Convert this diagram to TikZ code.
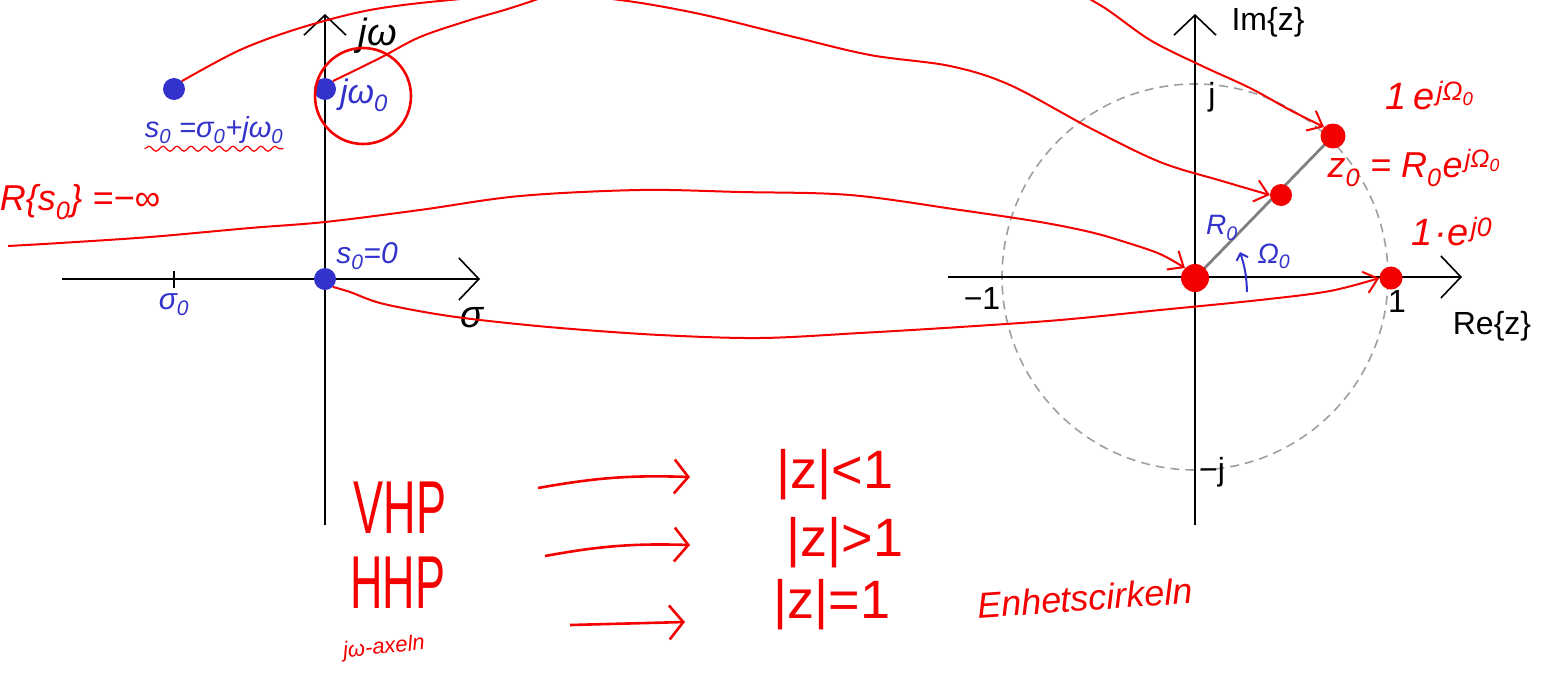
\documentclass[tikz,border=0pt]{standalone}
\usepackage{fontspec}
\setmainfont{Liberation Sans}
\usetikzlibrary{arrows.meta,decorations.pathmorphing}
\definecolor{penred}{RGB}{245,0,0}
\definecolor{penblue}{RGB}{51,51,204}
\newcommand\fs[1]{\fontsize{#1}{#1}\selectfont}
\begin{document}
\begin{tikzpicture}[x=1pt,y=-1pt,
  axis/.style={line width=1.6pt,-{Straight Barb[length=20pt,width=42pt,line width=1.6pt]}},
  pen/.style={penred,line width=2pt},
  map/.style={pen,-{Straight Barb[length=13pt,width=22pt]}},
  bigmap/.style={penred,line width=2.6pt,-{Straight Barb[length=14pt,width=34pt]}},
  bdot/.style={circle,fill=penblue,minimum size=22pt,inner sep=0},
  rdot/.style={circle,fill=penred,minimum size=25pt,inner sep=0},
  hw/.style={font=\itshape,inner sep=0pt},
  prt/.style={font=\fs{32},inner sep=0pt}]
\useasboundingbox (0,0) rectangle (1542,675);
\clip (0,0) rectangle (1542,675);
% s-plane
\draw[axis] (62,279) -- (480,279);
\draw[axis] (325,525) -- (325,14);
\draw[line width=2.2pt] (174,271) -- (174,288);
\node[hw,text=black] (jwlbl) at (378,36) {\fs{38}jω};
\node[hw,text=black] (sigmalbl) at (472,318) {\fs{38}σ};
\node[hw,text=penblue] (sig0lbl) at (174,305) {\fs{30}σ\textsubscript{0}};
\node[bdot] (s0) at (174,89) {};
\node[bdot] (jw0) at (325,89) {};
\node[bdot] (orig) at (325,279) {};
\node[hw,text=penblue] (s0lbl) at (214,130) {\fs{29}s\textsubscript{0} =σ\textsubscript{0}+jω\textsubscript{0}};
\draw[pen,line width=1.2pt,decorate,decoration={snake,amplitude=2.5pt,segment length=14pt}] ([yshift=-5pt]s0lbl.south west) -- ([yshift=-5pt]s0lbl.south east);
\node[hw,text=penblue] (jw0lbl) at (364,95) {\fs{34}jω\textsubscript{0}};
\node[draw=penred,line width=2.6pt,circle,minimum size=96pt] (ring) at (363,96) {};
\node[hw,text=penblue] (origlbl) at (367,256) {\fs{30}s\textsubscript{0}=0};
\node[hw,text=penred] (minflbl) at (80,202) {\fs{36}R\{s\textsubscript{0}\} =−∞};
% z-plane
\draw[gray!75,line width=1.6pt,dash pattern=on 9pt off 6pt] (1195,277) circle[radius=193pt];
\draw[axis] (948,277) -- (1462,277);
\draw[axis] (1195,525) -- (1195,14);
\node[prt] (imlbl) at (1268,22) {Im\{z\}};
\node[prt] (relbl) at (1492,326) {Re\{z\}};
\node[prt] (m1lbl) at (982,298) {−1};
\node[prt] (p1lbl) at (1397,301) {1};
\node[prt] (jlbl) at (1212,97) {j};
\node[prt] (mjlbl) at (1212,472) {−j};
\coordinate (O) at (1195,278);
\coordinate (U) at (1333,136);
\draw[gray,line width=2.8pt] (O) -- (U);
\node[rdot,minimum width=24pt,minimum height=28pt] (zorig) at (O) {};
\node[rdot,minimum size=22pt] (z0) at (1281,195) {};
\node[rdot] (zu) at (U) {};
\node[rdot,minimum size=23pt] (zone) at (1391,278) {};
\node[hw,text=penblue] (R0lbl) at (1222,228) {\fs{28}R\textsubscript{0}};
\node[hw,text=penblue] (W0lbl) at (1274,256) {\fs{28}Ω\textsubscript{0}};
\draw[penblue,line width=2pt,-{Straight Barb[length=6pt,width=12pt]}] (1247,292) to[bend right=8] (1240,252);
\node[hw,text=penred] (zulbl) at (1430,96) {\fs{38}1\,e\kern2pt\textsuperscript{jΩ\textsubscript{0}}};
\node[hw,text=penred] (z0lbl) at (1414,168) {\fs{36}z\textsubscript{0} = R\textsubscript{0}\kern1pt e\kern2pt\textsuperscript{jΩ\textsubscript{0}}};
\node[hw,text=penred] (zonelbl) at (1452,232) {\fs{38}1\kern1pt·\kern1pt e\kern2pt\textsuperscript{j0}};
% mappings
\coordinate (minf) at (8,246);
\draw[map] plot[smooth,tension=0.55] coordinates {(s0.north east) (240,50) (300,28) (370,10) (450,0) (540,-6) (620,0) (700,14) (790,36) (870,55) (950,66) (1010,85) (1090,128) (1160,162) (1222,181) (z0.west)};
\draw[map] plot[smooth,tension=0.55] coordinates {(jw0.north east) (380,58) (420,37) (470,20) (535,0) (700,-60) (900,-60) (1060,-12) (1100,5) (1150,40) (1200,65) (1250,88) (1290,110) (zu.north west)};
\draw[map] plot[smooth,tension=0.55] coordinates {(minf) (60,243) (150,237) (250,228) (325,222) (420,210) (520,196) (640,190) (740,192) (850,195) (960,210) (1040,222) (1090,232) (1125,242) (1160,254) (zorig.north west)};
\draw[map] plot[smooth,tension=0.55] coordinates {(orig.south east) (350,292) (380,303) (430,313) (480,320) (560,328) (660,335) (760,338) (860,333) (960,327) (1060,320) (1160,310) (1260,300) (1330,291) (zone.west)};
% half-planes
\node[text=penred,inner sep=0pt] (vhp) at (400,508) {\fs{75}\scalebox{0.6}[1]{VHP}};
\node[text=penred,inner sep=0pt] (hhp) at (398,583) {\fs{75}\scalebox{0.6}[1]{HHP}};
\node[hw,text=penred,rotate=6] (jwax) at (384,648) {\fs{22}jω-axeln};
\node[text=penred,inner sep=0pt] (zlt) at (835,475) {\fs{54}|z|<1};
\node[text=penred,inner sep=0pt] (zgt) at (845,543) {\fs{54}|z|>1};
\node[text=penred,inner sep=0pt] (zeq) at (832,605) {\fs{54}|z|=1};
\node[hw,text=penred,rotate=4] (enh) at (1085,598) {\fs{36}Enhetscirkeln};
\coordinate (a1) at (538,488); \coordinate (b1) at (690,477);
\coordinate (a2) at (545,556); \coordinate (b2) at (690,545);
\coordinate (a3) at (570,625); \coordinate (b3) at (685,622);
\draw[bigmap] (a1) to[bend left=6] (b1);
\draw[bigmap] (a2) to[bend left=6] (b2);
\draw[bigmap] (a3) -- (b3);
\end{tikzpicture}
\end{document}
